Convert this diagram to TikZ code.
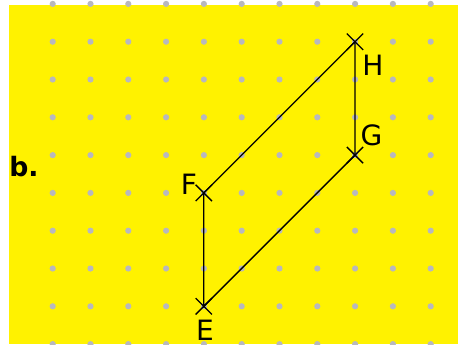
\documentclass[tikz,border=0pt]{standalone}
\usepackage{fontspec}
\setmainfont{DejaVu Sans}
\usepackage{tikz}
\usetikzlibrary{shapes.misc}
\definecolor{dotgray}{RGB}{184,184,190}
\tikzset{
    pt/.style={draw, cross out, line width=1pt, minimum size=15*0.75pt, inner sep=0pt},
    lbl/.style={font=\fontsize{21}{24}\selectfont, inner sep=0pt},
    side/.style={line width=1pt}
}

\begin{document}
\begin{tikzpicture}[x=0.75pt, y=-0.75pt]
    \useasboundingbox (0,0) rectangle (458,344);
    \fill[yellow] (9,5) rectangle (458,344);
    \foreach \i in {0,...,10}
        \foreach \j in {0,...,9}
            \fill[dotgray] (52.7+37.8*\i, 3.9+37.8*\j) circle (3.1);
    \node[pt] (E) at (203.8, 306.3) {};
    \node[pt] (F) at (203.8, 192.9) {};
    \node[pt] (G) at (355.0, 155.1) {};
    \node[pt] (H) at (355.0, 41.7) {};
    \draw[side] (H.center) -- (F.center) -- (E.center) -- (G.center) -- (H.center);
    \node[lbl] (labE) at (205, 330) {E};
    \node[lbl] (labF) at (189, 184) {F};
    \node[lbl] (labG) at (371.5, 135) {G};
    \node[lbl] (labH) at (373, 65.5) {H};
    \node[font=\bfseries\fontsize{20}{24}\selectfont, inner sep=0pt] (part) at (24, 167) {b.};
\end{tikzpicture}
\end{document}
